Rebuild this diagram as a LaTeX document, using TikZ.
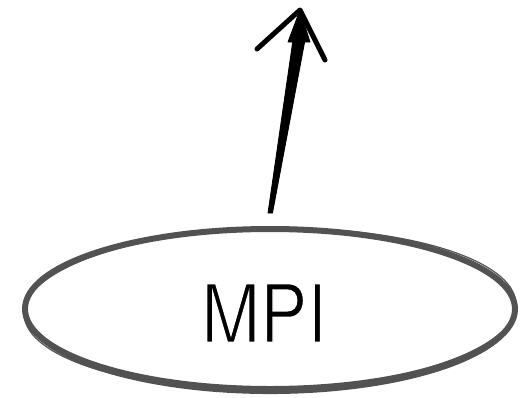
\documentclass[tikz,border=0pt]{standalone}
\usepackage{fontspec}
\setmainfont{TeX Gyre Heros}
\usetikzlibrary{shapes.geometric,calc}
\definecolor{brush}{HTML}{525252}
\newcommand\thinglyph[1]{\special{pdf:literal q 2 Tr 1 1 1 RG 1.6 w}#1\special{pdf:literal Q}}
\begin{document}
\begin{tikzpicture}[x=1pt,y=-1pt]
\tikzset{
  ring/.style={draw=brush, ellipse, line width=6pt, minimum width=490pt, minimum height=160pt, inner sep=0pt},
  sketch/.style={draw=brush, line width=1.2pt},
  heavy/.style={draw=brush, line width=4pt, line cap=round},
  bigtext/.style={font=\fontsize{81}{81}\selectfont, inner sep=0pt, text=black},
  ink/.style={fill=black, draw=black, line width=0.8pt, line join=round},
  barb/.style={draw=black, line width=5pt, line cap=round, line join=round}
}
\useasboundingbox (0,0) rectangle (520,397);
\node[ring] (mpi) at (270,309) {};
\draw[sketch, rotate around={1.2:(270,309)}] (270,309) ellipse [x radius=246pt, y radius=80.5pt];
\draw[heavy] ($(mpi.center)+(-230.2,28.4)$) arc[start angle=200, end angle=340, x radius=245pt, y radius=83pt];
\draw[heavy] ($(mpi.center)+(-233.1,-25.6)$) arc[start angle=162, end angle=200, x radius=248pt, y radius=83pt];
\node[bigtext] (txt) at (264,313) {\scalebox{0.87}[1]{\thinglyph{MPI}}};
\coordinate (tail) at (270,213);
\coordinate (tip) at (300,10);
\coordinate (lbarb) at (257,49);
\coordinate (rbarb) at (325,60);
\fill[ink] ($(tail)+(-2,0)$) -- ($(tail)+(2.5,0)$) -- ($(tip)+(5,30)$) -- ($(tip)+(-7,30)$) -- cycle;
\fill[ink] (tip) -- ($(tip)+(-12,32)$) -- ($(tip)+(10,32)$) -- cycle;
\draw[barb] (lbarb) -- (tip) -- (rbarb);
\end{tikzpicture}
\end{document}
